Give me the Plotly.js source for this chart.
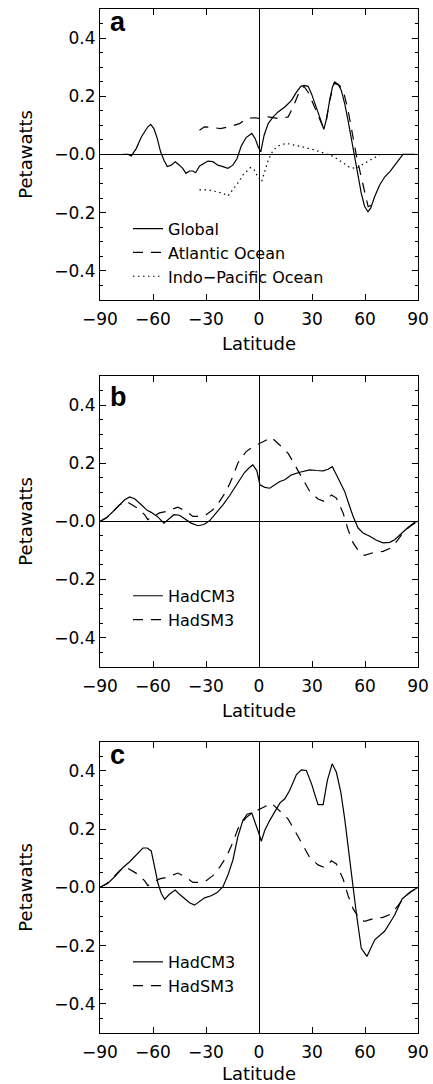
<!DOCTYPE html>
<html>
<head>
<meta charset="utf-8">
<script src="https://cdn.plot.ly/plotly-3.0.1.min.js"></script>
<style>html,body{margin:0;padding:0;background:#fff;}#chart{width:433px;height:1084px;}</style>
</head>
<body>
<div id="chart"></div>
<script>
// ---------- Panel a ----------
const globalLat = [-77,-74,-72.3,-69.5,-66.6,-64.8,-62.9,-61.3,-59.5,-57.6,-55.7,-53.8,-51.9,-49.7,-47.4,-45,-43.2,-41.3,-39.3,-37.4,-35.9,-33.6,-31.2,-28.9,-26.1,-23.3,-20.4,-17.6,-14.8,-12.4,-10.1,-7.3,-4.1,-2.2,-0.3,1.0,2.9,5.2,8,10.8,14.6,18.4,21.2,23.7,25.5,27.8,29.7,32.5,35,36.7,38.2,40,41.6,42.9,44.8,46.6,48.5,50.4,52.3,54.2,56.1,57.9,59.8,61.7,63.2,65.5,68.3,71.2,74,76.8,79.6,81.5,88];
const globalPW = [0,0,-0.005,0.02,0.06,0.077,0.095,0.103,0.089,0.055,0.009,-0.02,-0.042,-0.037,-0.025,-0.037,-0.048,-0.065,-0.057,-0.057,-0.063,-0.04,-0.031,-0.023,-0.025,-0.037,-0.042,-0.048,-0.037,-0.014,0.028,0.058,0.072,0.055,0.024,0.009,0.066,0.106,0.129,0.146,0.163,0.186,0.214,0.234,0.237,0.234,0.209,0.163,0.117,0.086,0.123,0.186,0.232,0.249,0.241,0.22,0.175,0.117,0.055,-0.008,-0.071,-0.134,-0.179,-0.197,-0.185,-0.145,-0.105,-0.077,-0.06,-0.037,-0.014,0,0];

const atlLat = [-33.7,-30.9,-27,-21.8,-16.7,-11,-6.3,-2,0.5,5.2,11.8,16.5,19.3,21.7,23.1,25.5,27.8,30.6,33.4,36.2,38.2,40,42.5,45.7,48.1,50.4,52.7,55.1,57.6,59.8,61.8,63.5,65.3];
const atlPW  = [0.083,0.095,0.093,0.089,0.095,0.106,0.125,0.126,0.123,0.129,0.123,0.129,0.163,0.197,0.22,0.234,0.214,0.175,0.135,0.095,0.12,0.186,0.245,0.237,0.209,0.152,0.077,-0.003,-0.071,-0.134,-0.18,-0.175,-0.148];

const indoLat = [-33.7,-28.9,-24.2,-20.4,-17.6,-14.8,-12,-9.1,-6.3,-4.8,-2.6,-0.7,1.5,2.9,5.2,8,11.8,15.5,20.3,25.9,31.6,37.2,41.9,46.6,51.4,55.1,57.9,62.7,68.3];
const indoPW  = [-0.122,-0.122,-0.128,-0.134,-0.143,-0.122,-0.099,-0.071,-0.054,-0.045,-0.054,-0.077,-0.094,-0.065,-0.02,0.015,0.032,0.038,0.032,0.024,0.015,0.005,-0.006,-0.025,-0.045,-0.048,-0.037,-0.02,-0.002];

// ---------- Panel b ----------
const cmB_Lat = [-90,-86.4,-82.6,-78.9,-76,-73.2,-70.4,-66.6,-63.3,-61,-57.6,-53.8,-51.2,-48.2,-45,-41.8,-38.4,-34.6,-31.2,-28,-24.2,-20.4,-16.7,-12.9,-8.2,-5.4,-3.5,-1.2,0.5,3.3,6.1,9,11.8,14.6,18.4,23.1,28.7,32.5,36.3,39.1,41.5,43.8,46.3,48.5,51,53.3,56.1,58.9,62.7,66.5,70.2,74,76.8,80.6,84.3,88.1,90];
const cmB_PW  = [0,0.012,0.034,0.057,0.074,0.084,0.078,0.057,0.038,0.031,0.017,-0.006,0.008,0.023,0.021,0.008,-0.006,-0.015,-0.011,0.002,0.029,0.057,0.088,0.122,0.168,0.185,0.194,0.174,0.126,0.117,0.114,0.126,0.137,0.143,0.16,0.169,0.177,0.175,0.174,0.179,0.188,0.16,0.131,0.103,0.057,0.017,-0.023,-0.04,-0.051,-0.065,-0.074,-0.072,-0.063,-0.04,-0.021,-0.003,0];

// HadSM3 (same in panels b and c)
const smLat = [-90,-86.4,-82.6,-78.9,-75.5,-72.3,-68.9,-64.8,-62.9,-56.3,-52.5,-45.9,-41.2,-37.4,-33.6,-29.9,-26.1,-22.4,-18.6,-14.8,-12,-7.3,-2.9,2.3,7,12.7,16.5,20.3,25,28.7,33.4,37.2,41,43.8,47.6,50.4,53.3,57,59.8,65.5,70.2,74.9,78.7,82,86,90];
const smPW  = [0,0.012,0.034,0.057,0.07,0.057,0.046,0.023,0.006,0.029,0.034,0.049,0.034,0.017,0.017,0.023,0.04,0.068,0.103,0.154,0.2,0.24,0.259,0.274,0.289,0.257,0.234,0.194,0.143,0.103,0.077,0.068,0.091,0.08,0.029,-0.028,-0.074,-0.108,-0.117,-0.106,-0.103,-0.091,-0.063,-0.035,-0.015,0];

// ---------- Panel c ----------
const cmC_Lat = [-90,-85.5,-80.8,-77,-73.2,-70.4,-67.6,-65.7,-63.3,-61,-59.1,-57.2,-55.3,-53.4,-50.6,-47.4,-45,-42.1,-39.3,-36.5,-33.6,-30.8,-27.1,-23.7,-20.4,-17.6,-14.8,-12,-9.1,-6.7,-4.1,-2.2,0.3,1.3,3.3,6.1,9,11.8,14.6,17.4,21.2,24,26.8,29.7,33.4,36.3,38.7,41.4,43.8,46.3,48.5,50.8,53.3,55.1,57.9,61.1,65.5,71.2,76.8,81,85.3,90];
const cmC_PW  = [0,0.014,0.042,0.068,0.088,0.105,0.125,0.135,0.135,0.125,0.07,0.014,-0.021,-0.041,-0.023,-0.009,-0.024,-0.038,-0.053,-0.061,-0.049,-0.036,-0.029,-0.018,0.002,0.042,0.093,0.173,0.23,0.251,0.255,0.224,0.179,0.158,0.196,0.23,0.258,0.289,0.304,0.333,0.387,0.403,0.401,0.356,0.284,0.284,0.367,0.424,0.395,0.327,0.236,0.116,0.002,-0.089,-0.209,-0.237,-0.18,-0.15,-0.095,-0.04,-0.018,0];

// ---------- Ticks / labels ----------
const xTickVals = [-90,-60,-30,0,30,60,90];
const xTickText = ['\u221290','\u221260','\u221230','0','30','60','90'];
const yTickVals = [-0.4,-0.2,0,0.2,0.4];
const yTickText = ['\u22120.4','\u22120.2','\u22120.0','0.2','0.4'];
const panelLetters = ['a','b','c'];
const xTitle = 'Latitude';
const yTitle = 'Petawatts';

const FONT = 'DejaVu Sans, Liberation Sans, Arial, sans-serif';
const ln = (dash) => ({color:'#000', width:1.2, dash:dash, shape:'linear'});
const DASH = '10px,8px';
const DOT = '1.5px,3.5px';

const traces = [
  {x:globalLat, y:globalPW, name:'Global', mode:'lines', line:ln('solid'), xaxis:'x', yaxis:'y', legend:'legend'},
  {x:atlLat, y:atlPW, name:'Atlantic Ocean', mode:'lines', line:ln(DASH), xaxis:'x', yaxis:'y', legend:'legend'},
  {x:indoLat, y:indoPW, name:'Indo\u2212Pacific Ocean', mode:'lines', line:ln(DOT), xaxis:'x', yaxis:'y', legend:'legend'},
  {x:cmB_Lat, y:cmB_PW, name:'HadCM3', mode:'lines', line:ln('solid'), xaxis:'x2', yaxis:'y2', legend:'legend2'},
  {x:smLat, y:smPW, name:'HadSM3', mode:'lines', line:ln(DASH), xaxis:'x2', yaxis:'y2', legend:'legend2'},
  {x:cmC_Lat, y:cmC_PW, name:'HadCM3', mode:'lines', line:ln('solid'), xaxis:'x3', yaxis:'y3', legend:'legend3'},
  {x:smLat, y:smPW, name:'HadSM3', mode:'lines', line:ln(DASH), xaxis:'x3', yaxis:'y3', legend:'legend3'}
];

function xax(anchor){
  return {
    anchor:anchor, domain:[0,1], range:[-90,90], autorange:false,
    tickvals:xTickVals, ticktext:xTickText, ticks:'inside', ticklen:6, tickwidth:1, tickcolor:'#000',
    ticklabelstandoff:4,
    showline:true, linecolor:'#000', linewidth:1, mirror:'ticks',
    showgrid:false, zeroline:true, zerolinecolor:'#000', zerolinewidth:1,
    tickfont:{family:FONT, size:17, color:'#000'},
    title:{text:xTitle, font:{family:FONT, size:18, color:'#000'}, standoff:9},
    automargin:false
  };
}
function yax(anchor, dom){
  return {
    anchor:anchor, domain:dom, range:[-0.5,0.5], autorange:false,
    tickvals:yTickVals, ticktext:yTickText, ticks:'inside', ticklen:6, tickwidth:1, tickcolor:'#000',
    minor:{dtick:0.05, ticks:'inside', ticklen:3, tickcolor:'#000', tickwidth:1, showgrid:false},
    showline:true, linecolor:'#000', linewidth:1, mirror:'ticks',
    showgrid:false, zeroline:true, zerolinecolor:'#000', zerolinewidth:1,
    tickfont:{family:FONT, size:17, color:'#000'},
    title:{text:yTitle, font:{family:FONT, size:18, color:'#000'}, standoff:17},
    automargin:false
  };
}
function leg(y){
  return {x:0.088, y:y, xanchor:'left', yanchor:'top', xref:'paper', yref:'paper',
    bgcolor:'rgba(0,0,0,0)', borderwidth:0, font:{family:FONT, size:16, color:'#000'},
    itemwidth:30, tracegroupgap:0, traceorder:'normal'};
}
const letterY = [1.0125, 0.985, 1.0125];
const letterAnn = (i) => ({
  text:'<b>'+panelLetters[i]+'</b>', xref:(i===0?'x':'x'+(i+1))+' domain', yref:(i===0?'y':'y'+(i+1))+' domain',
  x:0.025, y:letterY[i], xanchor:'left', yanchor:'top', showarrow:false,
  font:{family:'Liberation Sans, Arial, sans-serif', size:27, color:'#000'}
});

const layout = {
  width:433, height:1084,
  margin:{l:100, r:15, t:9, b:51},
  paper_bgcolor:'#fff', plot_bgcolor:'#fff',
  showlegend:true,
  xaxis:xax('y'), yaxis:yax('x',[0.716,1]),
  xaxis2:xax('y2'), yaxis2:yax('x2',[0.3577,0.6416]),
  xaxis3:xax('y3'), yaxis3:yax('x3',[0,0.2845]),
  legend:leg(0.802), legend2:leg(0.4435), legend3:leg(0.086),
  annotations:[letterAnn(0), letterAnn(1), letterAnn(2)]
};

Plotly.newPlot('chart', traces, layout, {staticPlot:true, displayModeBar:false});
</script>
</body>
</html>
